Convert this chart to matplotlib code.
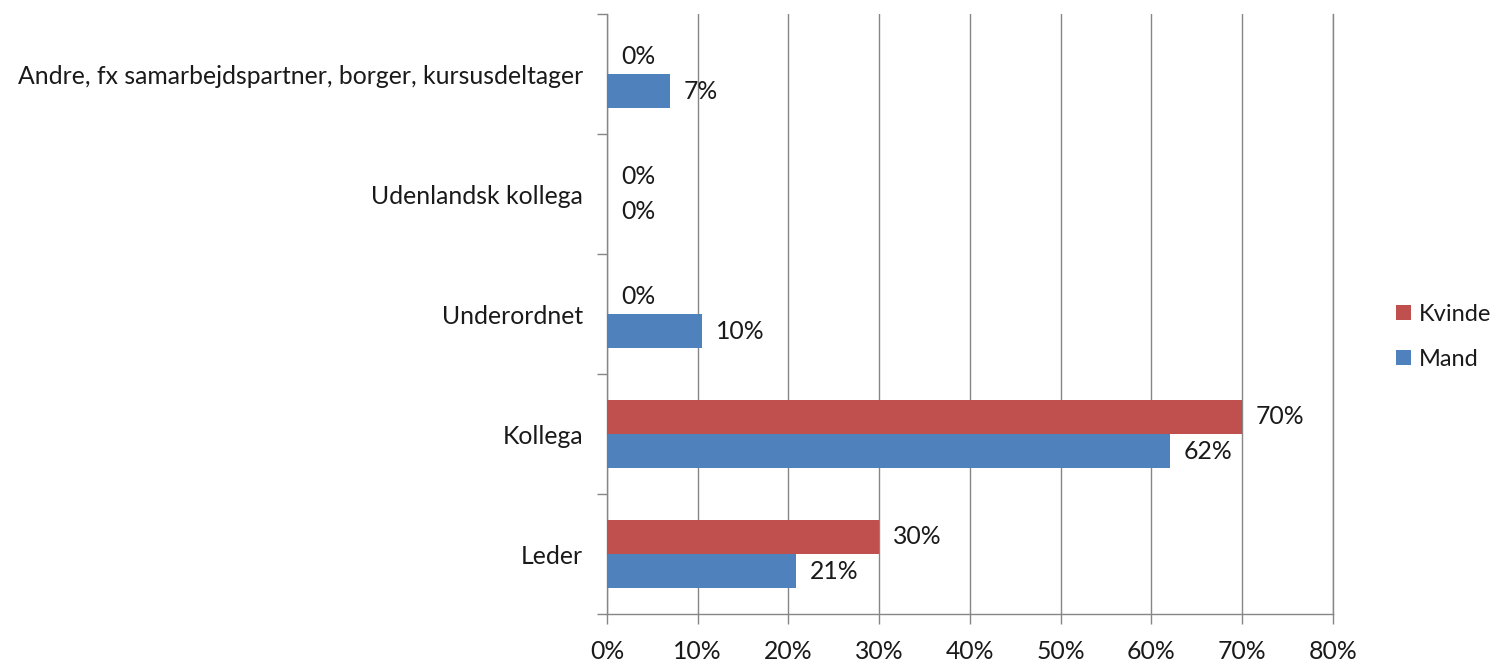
import matplotlib
matplotlib.use("Agg")
import matplotlib.pyplot as plt
import numpy as np

categories = ["Leder", "Kollega", "Underordnet", "Udenlandsk kollega",
              "Andre, fx samarbejdspartner, borger, kursusdeltager"]
kvinde = [30.0, 70.0, 0.0, 0.0, 0.0]
mand = [20.8, 62.0, 10.5, 0.0, 6.9]
xticks = [0, 10, 20, 30, 40, 50, 60, 70, 80]
xtick_labels = ["0%", "10%", "20%", "30%", "40%", "50%", "60%", "70%", "80%"]

plt.rcParams['font.family'] = ['Lato', 'DejaVu Sans']

fig = plt.figure(figsize=(14.95, 6.61), dpi=100)
ax = fig.add_axes([0.406, 0.0711, 0.4856, 0.9077])

red = "#C0504D"
blue = "#4F81BD"
grid_c = "#868686"
txt_c = "#1a1a1a"
fs = 17.8
h = 0.285
y = np.arange(len(categories))

bk = ax.barh(y + h / 2, kvinde, height=h, color=red, label="Kvinde", zorder=3)
bm = ax.barh(y - h / 2, mand, height=h, color=blue, label="Mand", zorder=3)

for bars, vals in ((bk, kvinde), (bm, mand)):
    for b, v in zip(bars, vals):
        ax.annotate(f"{round(v):d}%", xy=(v, b.get_y() + b.get_height() / 2),
                    xytext=(10, 0), textcoords="offset points",
                    ha="left", va="center", fontsize=fs, color=txt_c)

ax.set_xlim(0, 80)
ax.set_ylim(-0.5, len(categories) - 0.5)
ax.set_xticks(xticks)
ax.set_xticklabels(xtick_labels, fontsize=fs, color=txt_c)
ax.set_yticks(y)
ax.set_yticklabels(categories, fontsize=fs, color=txt_c)
ax.set_yticks(np.arange(-0.5, len(categories), 1.0), minor=True)
ax.tick_params(axis='y', which='major', length=0, pad=17)
ax.tick_params(axis='y', which='minor', length=7, color=grid_c, width=1)
ax.tick_params(axis='x', which='major', length=7, color=grid_c, width=1, pad=12)

ax.grid(axis='x', color=grid_c, linewidth=1, zorder=0)
ax.axvline(80, color=grid_c, linewidth=1, zorder=0, clip_on=False)
for s in ("top", "right"):
    ax.spines[s].set_visible(False)
for s in ("left", "bottom"):
    ax.spines[s].set_color(grid_c)
    ax.spines[s].set_linewidth(1)

handles = [bk, bm]
leg = fig.legend(handles, ["Kvinde", "Mand"], loc="center left",
                 bbox_to_anchor=(0.923, 0.49), frameon=False, fontsize=17,
                 handlelength=0.6, handleheight=0.6, handletextpad=0.35,
                 labelspacing=1.0, borderpad=0.2)
for t in leg.get_texts():
    t.set_color(txt_c)

fig.savefig("out.png", dpi=100)
